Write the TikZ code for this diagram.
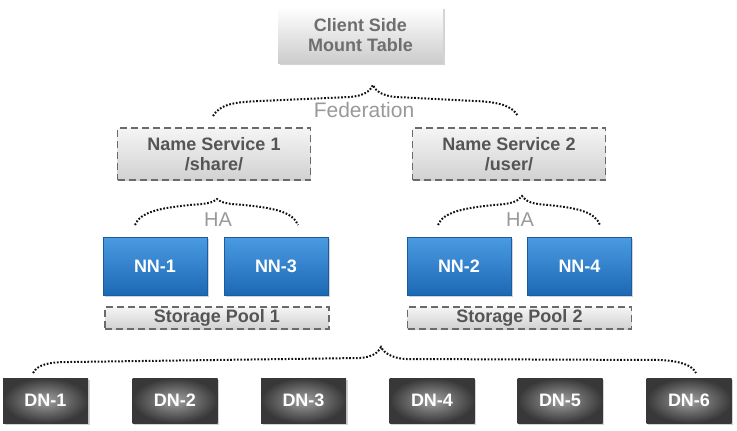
\documentclass[tikz,border=0pt]{standalone}
\usepackage{fontspec}
\setmainfont{Liberation Sans}
\usetikzlibrary{shadows}
\definecolor{clienttxt}{HTML}{6E6E6E}
\definecolor{nstxt}{HTML}{555555}
\definecolor{dashgray}{HTML}{6A6A6A}
\definecolor{lighttxt}{HTML}{999999}
\definecolor{bluetop}{HTML}{4A9BE2}
\definecolor{bluebot}{HTML}{1D68B4}
\definecolor{blueedge}{HTML}{1A5C9E}
\definecolor{dninner}{HTML}{A0A0A0}
\definecolor{dnouter}{HTML}{383838}
\definecolor{bracecol}{HTML}{111111}
\begin{document}
\begin{tikzpicture}[x=1pt,y=-1pt,
  boxfont/.style={font=\fontsize{18}{20.5}\selectfont\bfseries, align=center, inner sep=0pt},
  clientbox/.style={boxfont, text=clienttxt, top color=white, bottom color=black!20,
    minimum width=165pt, minimum height=56pt,
    drop shadow={shadow xshift=1.5pt, shadow yshift=-2pt, opacity=0.35}},
  nsbox/.style={boxfont, text=nstxt, top color=black!4, bottom color=black!18,
    draw=dashgray, line width=1.3pt, dash pattern=on 7pt off 4pt,
    minimum width=193pt, minimum height=52pt},
  spbox/.style={nsbox, minimum width=224pt, minimum height=22pt},
  nnbox/.style={boxfont, text=white, top color=bluetop, bottom color=bluebot,
    draw=blueedge, line width=0.5pt, minimum width=104pt, minimum height=58pt,
    drop shadow={shadow xshift=1.5pt, shadow yshift=-2pt, opacity=0.35}},
  dnbox/.style={boxfont, text=white, inner color=dninner, outer color=dnouter,
    minimum width=85pt, minimum height=45pt,
    drop shadow={shadow xshift=1.5pt, shadow yshift=-2pt, opacity=0.35}},
  bracepath/.style={draw=bracecol, line width=2pt, dash pattern=on 1.7pt off 1.7pt},
  bracelabel/.style={text=lighttxt, inner sep=0pt}
]
\useasboundingbox (0,0) rectangle (737,431);

% nodes
\node[clientbox] (client) at (360.5,35) {Client Side\\Mount Table};

\node[nsbox] (ns1) at (214,154) {Name Service 1\\/share/};
\node[nsbox] (ns2) at (509,154) {Name Service 2\\/user/};

\node[nnbox] (nn1) at (155,266) {NN-1};
\node[nnbox] (nn3) at (276,266) {NN-3};
\node[nnbox] (nn2) at (459,266) {NN-2};
\node[nnbox] (nn4) at (579.5,266) {NN-4};

\node[spbox] (sp1) at (217,318) {Storage Pool 1};
\node[spbox] (sp2) at (519.5,318) {Storage Pool 2};

\node[dnbox] (dn1) at (45.5,400.5) {DN-1};
\node[dnbox] (dn2) at (175,400.5) {DN-2};
\node[dnbox] (dn3) at (303.5,400.5) {DN-3};
\node[dnbox] (dn4) at (432,400.5) {DN-4};
\node[dnbox] (dn5) at (560,400.5) {DN-5};
\node[dnbox] (dn6) at (689,400.5) {DN-6};

% braces
\path[bracepath] (213,116) .. controls (220,104) and (235,102) .. (260,101) -- (350,97)
  .. controls (362,96) and (370,92) .. (373,85)
  .. controls (376,92) and (384,96) .. (396,97) -- (475,101)
  .. controls (500,102) and (512,106) .. (518,116);
\node[bracelabel, font=\fontsize{21}{21}\selectfont] (fed) at (364,110) {Federation};

\path[bracepath] (135,225) .. controls (140,212) and (160,208) .. (190,205)
  .. controls (205,204) and (213,203) .. (217,199)
  .. controls (221,203) and (229,204) .. (244,205)
  .. controls (274,208) and (293,212) .. (298,225);
\node[bracelabel, font=\fontsize{20}{20}\selectfont] (ha1) at (218,220) {HA};

\path[bracepath] (438,225) .. controls (443,212) and (464,208) .. (494,205)
  .. controls (510,204) and (518,202) .. (522,196)
  .. controls (526,202) and (533,204) .. (548,205)
  .. controls (578,208) and (595,212) .. (600,225);
\node[bracelabel, font=\fontsize{20}{20}\selectfont] (ha2) at (520,220) {HA};

\path[bracepath] (33,373) .. controls (38,364) and (50,362) .. (70,362) -- (360,358)
  .. controls (372,357) and (378,353) .. (381,347)
  .. controls (384,353) and (392,358) .. (405,359) -- (660,360)
  .. controls (680,361) and (692,365) .. (696,373);
\end{tikzpicture}
\end{document}
